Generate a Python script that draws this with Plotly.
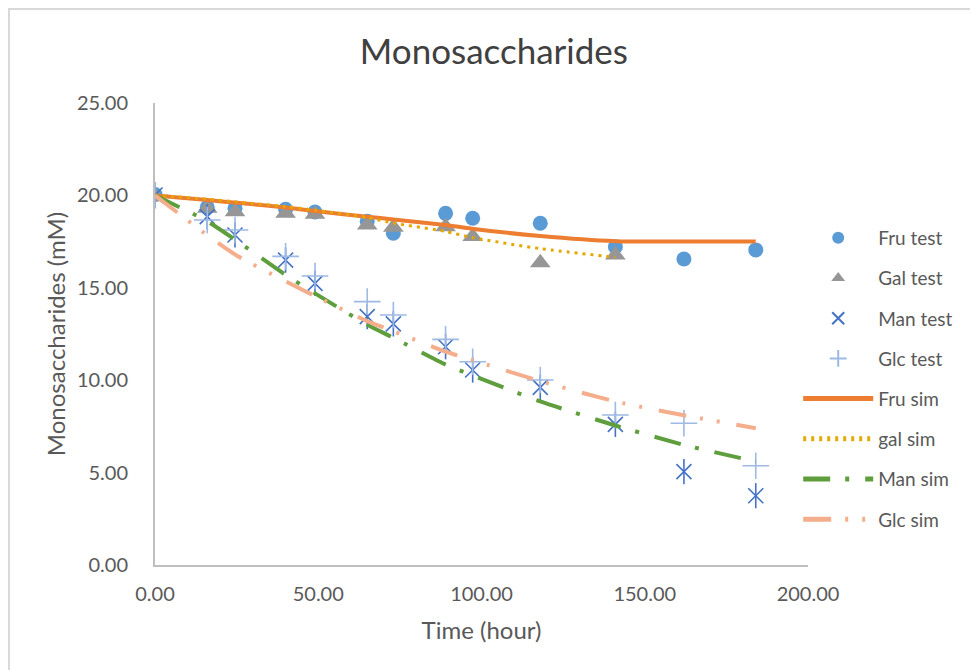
import plotly.graph_objects as go

# Measured concentrations (mM) at sampling times (hour)
t_fru = [0.0, 16.0, 24.5, 40.0, 49.0, 65.0, 73.0, 89.0, 97.3, 118.0, 141.0, 162.0, 184.0]
fru_test = [20.05, 19.35, 19.3, 19.25, 19.1, 18.6, 17.95, 19.03, 18.76, 18.49, 17.22, 16.56, 17.05]

t_gal = [0.0, 16.0, 24.5, 40.0, 49.0, 65.0, 73.0, 89.0, 97.3, 118.0, 141.0]
gal_test = [19.93, 19.3, 19.12, 19.03, 18.98, 18.4, 18.28, 18.31, 17.78, 16.35, 16.77]

t_man = [0.0, 16.0, 24.5, 40.0, 49.0, 65.0, 73.0, 89.0, 97.3, 118.0, 141.0, 162.0, 184.0]
man_test = [20.02, 18.85, 17.86, 16.5, 15.24, 13.44, 13.05, 11.81, 10.55, 9.61, 7.61, 5.05, 3.75]

t_glc = [0.0, 16.0, 24.5, 40.0, 49.0, 65.0, 73.0, 89.0, 97.3, 118.0, 141.0, 162.0, 184.0]
glc_test = [20.0, 18.67, 18.13, 16.7, 15.64, 14.25, 13.53, 12.21, 11.0, 10.01, 8.12, 7.67, 5.37]

# Simulated profiles
t_sim = [0.0, 16.0, 25.0, 40.0, 49.0, 65.0, 73.0, 89.0, 97.0, 118.0, 141.0, 162.0, 184.0]
fru_sim = [20.0, 19.75, 19.6, 19.35, 19.15, 18.85, 18.7, 18.4, 18.2, 17.8, 17.52, 17.5, 17.5]
man_sim = [20.0, 18.6, 17.55, 15.7, 14.7, 13.0, 12.3, 10.85, 10.28, 8.85, 7.55, 6.5, 5.6]
glc_sim = [20.0, 17.85, 16.75, 15.35, 14.55, 13.2, 12.65, 11.55, 11.1, 9.95, 8.85, 8.1, 7.4]

t_gal_sim = [0.0, 16.0, 25.0, 40.0, 49.0, 65.0, 73.0, 89.0, 97.0, 118.0, 141.0]
gal_sim = [20.0, 19.8, 19.65, 19.4, 19.2, 18.8, 18.5, 18.05, 17.72, 17.12, 16.65]

x_ticks = [0, 50, 100, 150, 200]
y_ticks = [0, 5, 10, 15, 20, 25]

FONT = "Lato"
TEXT = "#595959"

fig = go.Figure()

fig.add_trace(go.Scatter(
    x=t_fru, y=fru_test, mode="markers", name="Fru test", legendgroup="a",
    marker=dict(symbol="circle", size=15, color="#5B9BD5", line=dict(width=0)),
))
fig.add_trace(go.Scatter(
    x=t_gal, y=gal_test, mode="markers", name="Gal test", legendgroup="b",
    marker=dict(symbol="triangle-up", size=18, color="#969696", line=dict(width=0)),
))
fig.add_trace(go.Scatter(
    x=t_man, y=man_test, mode="markers", name="Man test", legendgroup="c",
    marker=dict(symbol="x-thin-open", size=15, color="#4472C4",
                line=dict(width=1.6, color="#4472C4")),
))
# vertical stroke completing the star marker
fig.add_trace(go.Scatter(
    x=t_man, y=man_test, mode="markers", showlegend=False, legendgroup="c",
    marker=dict(symbol="line-ns-open", size=18, color="#4472C4",
                line=dict(width=1.6, color="#4472C4")),
))
fig.add_trace(go.Scatter(
    x=t_glc, y=glc_test, mode="markers", name="Glc test", legendgroup="d",
    marker=dict(symbol="cross-thin-open", size=19, color="#9DB9E4",
                line=dict(width=1.6, color="#9DB9E4")),
))

fig.add_trace(go.Scatter(
    x=t_sim, y=fru_sim, mode="lines", name="Fru sim", legendgroup="e",
    line=dict(color="#ED7D31", width=4, shape="spline", smoothing=0.6),
))
fig.add_trace(go.Scatter(
    x=t_gal_sim, y=gal_sim, mode="lines", name="gal sim", legendgroup="f",
    line=dict(color="#E3A800", width=3, dash="3px,5px", shape="spline", smoothing=0.6),
))
fig.add_trace(go.Scatter(
    x=t_sim, y=man_sim, mode="lines", name="Man sim", legendgroup="g",
    line=dict(color="#5E9E3C", width=4, dash="27px,15px,4px,16px",
              shape="spline", smoothing=0.6),
))
fig.add_trace(go.Scatter(
    x=t_sim, y=glc_sim, mode="lines", name="Glc sim", legendgroup="h",
    line=dict(color="#F4AE8C", width=4, dash="28px,14px,3px,14px,3px,17px",
              shape="spline", smoothing=0.6),
))

fig.update_layout(
    width=970, height=670,
    margin=dict(l=155, r=162, t=103, b=105),
    paper_bgcolor="white", plot_bgcolor="white",
    font=dict(family=FONT, color=TEXT, size=19),
    title=dict(text="Monosaccharides", x=0.519, xref="paper", xanchor="center",
               y=0.9224, yref="container", yanchor="middle",
               font=dict(family=FONT, size=35, color="#404040")),
    showlegend=True,
    legend=dict(x=0.985, xanchor="left", y=0.749, yanchor="top",
                font=dict(family=FONT, size=19, color=TEXT),
                itemwidth=70, itemsizing="constant", tracegroupgap=12.5,
                bgcolor="rgba(0,0,0,0)"),
    shapes=[dict(type="rect", xref="paper", yref="paper",
                 x0=-0.2236, x1=1.26, y0=-0.24, y1=1.2035,
                 line=dict(color="#D9D9D9", width=2), layer="below")],
)

fig.update_xaxes(
    range=[0, 200], tickvals=x_ticks, tickformat=".2f",
    showgrid=False, zeroline=False, showline=True, linecolor="#BFBFBF", linewidth=2,
    ticks="outside", ticklen=10, tickcolor="rgba(0,0,0,0)",
    tickfont=dict(family=FONT, size=20, color=TEXT),
    title=dict(text="Time (hour)", font=dict(family=FONT, size=24, color=TEXT), standoff=18),
)
fig.update_yaxes(
    range=[0, 25], tickvals=y_ticks, tickformat=".2f",
    showgrid=False, zeroline=False, showline=True, linecolor="#BFBFBF", linewidth=2,
    ticks="outside", ticklen=21, tickcolor="rgba(0,0,0,0)",
    tickfont=dict(family=FONT, size=20, color=TEXT),
    title=dict(text="Monosaccharides (mM)", font=dict(family=FONT, size=24, color=TEXT), standoff=4),
)

fig.write_html("out.html")
